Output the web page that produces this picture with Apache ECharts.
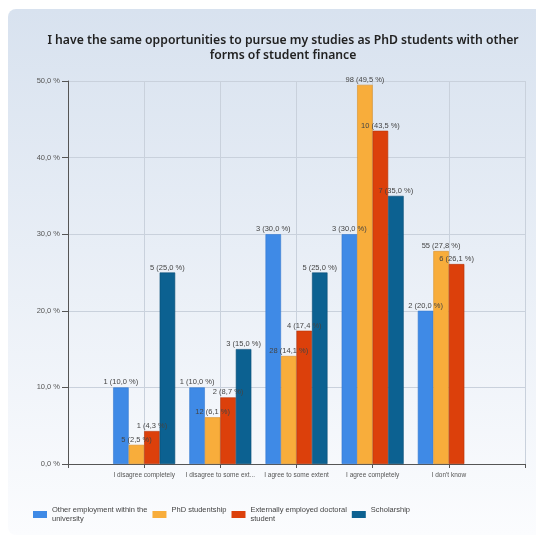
<!DOCTYPE html>
<html>
<head>
<meta charset="utf-8">
<script src="https://cdn.jsdelivr.net/npm/echarts@6/dist/echarts.min.js"></script>
<style>html,body{margin:0;padding:0;background:#fff;}#c{width:536px;height:540px;}</style>
</head>
<body>
<div id="c"></div>
<script>
var categories = ['I disagree completely', 'I disagree to some extent', 'I agree to some extent', 'I agree completely', "I don't know"];
var seriesNames = ['Other employment within the university', 'PhD studentship', 'Externally employed doctoral student', 'Scholarship'];
var otherPct = [10.0, 10.0, 30.0, 30.0, 20.0];
var otherCnt = [1, 1, 3, 3, 2];
var phdPct = [2.5, 6.1, 14.1, 49.5, 27.8];
var phdCnt = [5, 12, 28, 98, 55];
var extPct = [4.3, 8.7, 17.4, 43.5, 26.1];
var extCnt = [1, 2, 4, 10, 6];
var schPct = [25.0, 15.0, 25.0, 35.0, 0.0];
var schCnt = [5, 3, 5, 7, 0];
var yTicks = [0, 10, 20, 30, 40, 50];

var colors = ['#3f8ae6', '#f8ad3b', '#dc400b', '#0c6191'];
var borders = ['#3479d0', '#d8912a', '#b83408', '#094e75'];
var pcts = [otherPct, phdPct, extPct, schPct];
var cnts = [otherCnt, phdCnt, extCnt, schCnt];

function fmt(v) { return v.toFixed(1).replace('.', ','); }

var chart = echarts.init(document.getElementById('c'));
var axisCats = [''].concat(categories).concat(['']);
var series = seriesNames.map(function (name, si) {
  var data = [null];
  pcts[si].forEach(function (v, i) {
    var item = { value: v, cnt: cnts[si][i] };
    if (v === 0) {
      item.label = { offset: [0, -270] };
      item.itemStyle = { borderWidth: 0, opacity: 0 };
    }
    data.push(item);
  });
  data.push(null);
  return {
    name: name,
    type: 'bar',
    barWidth: 15.5,
    barGap: '0%',
    data: data,
    itemStyle: { color: colors[si], borderColor: borders[si], borderWidth: 0.6 },
    label: {
      show: true,
      position: 'top',
      distance: 1,
      fontFamily: 'Liberation Sans',
      fontSize: 7.5,
      color: '#444',
      formatter: function (p) { return p.data.cnt + ' (' + fmt(p.data.value) + ' %)'; }
    }
  };
});

chart.setOption({
  animation: false,
  graphic: [{
    type: 'rect', z: -10, silent: true,
    shape: { x: 8, y: 9, width: 545, height: 526, r: 8 },
    style: {
      fill: new echarts.graphic.LinearGradient(0, 0, 0, 1, [
        { offset: 0, color: '#d8e2ef' },
        { offset: 1, color: '#fbfcfe' }
      ])
    }
  }],
  title: {
    text: 'I have the same opportunities to pursue my studies as PhD students with other\nforms of student finance',
    left: 278, top: 28, textAlign: 'center',
    textStyle: { fontFamily: 'Noto Sans', fontWeight: 600, fontSize: 12.2, lineHeight: 15, color: '#222' }
  },
  legend: {
    left: 33, top: 506, padding: 0,
    itemWidth: 14, itemHeight: 7, itemGap: 5,
    icon: 'rect',
    itemStyle: { borderWidth: 0 },
    textStyle: { fontFamily: 'Liberation Sans', fontSize: 7.5, color: '#444', lineHeight: 8.5 },
    formatter: function (n) {
      var map = {
        'Other employment within the university': 'Other employment within the\nuniversity',
        'PhD studentship': 'PhD studentship\n ',
        'Externally employed doctoral student': 'Externally employed doctoral\nstudent',
        'Scholarship': 'Scholarship\n '
      };
      return map[n];
    },
    data: seriesNames
  },
  grid: { left: 68, right: 11, top: 81, bottom: 76, containLabel: false },
  xAxis: {
    type: 'category',
    data: axisCats,
    boundaryGap: false,
    axisLine: { lineStyle: { color: '#555', width: 1 } },
    axisTick: { show: true, length: 4, interval: 0, lineStyle: { color: '#555' } },
    axisLabel: {
      interval: 0,
      fontFamily: 'Liberation Sans', fontSize: 6.5, color: '#555', margin: 8,
      width: 72, overflow: 'truncate', ellipsis: '...'
    },
    splitLine: { show: true, interval: 0, lineStyle: { color: '#c9d1dc', width: 1 } }
  },
  yAxis: {
    type: 'value',
    min: yTicks[0], max: yTicks[yTicks.length - 1], interval: 10,
    axisLine: { show: true, lineStyle: { color: '#555', width: 1 } },
    axisTick: { show: true, length: 6, lineStyle: { color: '#555' } },
    axisLabel: {
      fontFamily: 'Liberation Sans', fontSize: 7.5, color: '#555', margin: 8,
      formatter: function (v) { return fmt(v) + ' %'; }
    },
    splitLine: { show: true, lineStyle: { color: '#c9d1dc', width: 1 } }
  },
  series: series
});
</script>
</body>
</html>
